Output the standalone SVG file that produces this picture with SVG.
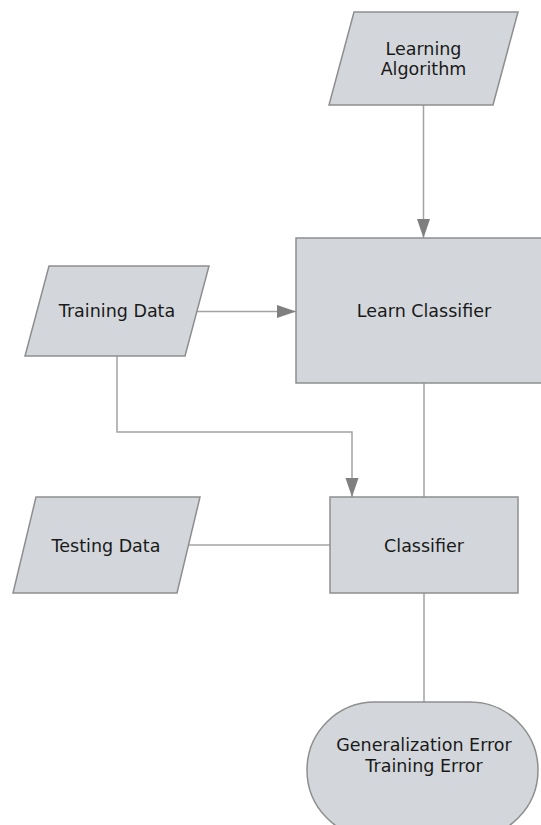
<svg xmlns="http://www.w3.org/2000/svg" width="541" height="825" viewBox="0 0 541 825">
  <style>
    .shape { fill: #d3d7db; stroke: #8e8e8e; stroke-width: 1.5; }
    .conn { fill: none; stroke: #a3a3a3; stroke-width: 1.5; }
    .label { font-family: "DejaVu Sans", Verdana, sans-serif; font-size: 17.5px; fill: #1a1a1a; text-anchor: middle; }
  </style>
  <defs>
    <marker id="arrow" markerUnits="userSpaceOnUse" markerWidth="20" markerHeight="14" refX="19" refY="6.5" orient="auto">
      <path d="M0,0 L19,6.5 L0,13 Z" fill="#7f7f7f"/>
    </marker>
  </defs>
  <rect width="541" height="825" fill="#ffffff"/>

  <g id="connectors">
    <path class="conn" d="M423.5,105 L423.5,238" marker-end="url(#arrow)"/>
    <path class="conn" d="M197,311.5 L296,311.5" marker-end="url(#arrow)"/>
    <path class="conn" d="M117,356 L117,432 L352,432 L352,497" marker-end="url(#arrow)"/>
    <path class="conn" d="M424,383 L424,497"/>
    <path class="conn" d="M189,545 L330,545"/>
    <path class="conn" d="M424,593 L424,702"/>
  </g>

  <g id="learning-algorithm">
    <polygon class="shape" points="354,12 518,12 493,105 329,105"/>
    <text class="label" x="423.5" y="55">Learning</text>
    <text class="label" x="423.5" y="75">Algorithm</text>
  </g>

  <g id="learn-classifier">
    <rect class="shape" x="296" y="238" width="256" height="145"/>
    <text class="label" x="424" y="317">Learn Classifier</text>
  </g>

  <g id="training-data">
    <polygon class="shape" points="49,266 209,266 185,356 25,356"/>
    <text class="label" x="117" y="317">Training Data</text>
  </g>

  <g id="testing-data">
    <polygon class="shape" points="36,497 200,497 177,593 13,593"/>
    <text class="label" x="106" y="552">Testing Data</text>
  </g>

  <g id="classifier">
    <rect class="shape" x="330" y="497" width="188" height="96"/>
    <text class="label" x="424" y="552">Classifier</text>
  </g>

  <g id="error-terminal">
    <rect class="shape" x="307" y="702" width="231" height="136" rx="68" ry="68"/>
    <text class="label" x="424" y="751">Generalization Error</text>
    <text class="label" x="424" y="772">Training Error</text>
  </g>
</svg>
